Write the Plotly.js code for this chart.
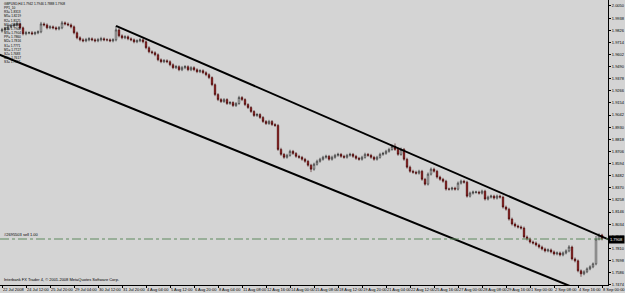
<!DOCTYPE html>
<html><head><meta charset="utf-8">
<script src="https://cdn.plot.ly/plotly-3.0.1.min.js"></script>
<style>html,body{margin:0;padding:0;background:#d4d4d4;overflow:hidden}#chart{width:625px;height:293px}</style>
</head><body><div id="chart"></div>
<script>
// GBPUSD, H4 bars (22 Jul 2008 - 8 Sep 2008)
const openP = [1.9820,1.9829,1.9838,1.9857,1.9866,1.9875,1.9884,1.9848,1.9793,1.9802,1.9802,1.9793,1.9802,1.9811,1.9884,1.9875,1.9848,1.9857,1.9848,1.9838,
1.9848,1.9894,1.9884,1.9875,1.9857,1.9802,1.9756,1.9737,1.9728,1.9737,1.9747,1.9737,1.9728,1.9737,1.9747,1.9737,1.9737,1.9728,1.9737,1.9829,
1.9774,1.9756,1.9765,1.9747,1.9737,1.9719,1.9728,1.9737,1.9719,1.9664,1.9627,1.9618,1.9599,1.9553,1.9535,1.9544,1.9535,1.9507,1.9480,1.9489,
1.9461,1.9480,1.9489,1.9461,1.9480,1.9461,1.9443,1.9452,1.9434,1.9415,1.9388,1.9323,1.9231,1.9185,1.9167,1.9185,1.9149,1.9158,1.9130,1.9149,
1.9204,1.9185,1.9139,1.9112,1.9075,1.9038,1.9047,1.9020,1.8983,1.8964,1.8983,1.8955,1.8946,1.8725,1.8679,1.8652,1.8670,1.8707,1.8688,1.8661,
1.8652,1.8634,1.8615,1.8579,1.8542,1.8588,1.8615,1.8634,1.8652,1.8661,1.8634,1.8652,1.8670,1.8679,1.8661,1.8652,1.8670,1.8679,1.8661,1.8643,
1.8634,1.8652,1.8679,1.8670,1.8652,1.8634,1.8652,1.8679,1.8688,1.8707,1.8725,1.8753,1.8725,1.8679,1.8725,1.8634,1.8561,1.8523,1.8514,1.8505,
1.8523,1.8449,1.8404,1.8496,1.8542,1.8523,1.8469,1.8449,1.8431,1.8358,1.8358,1.8367,1.8358,1.8413,1.8431,1.8422,1.8293,1.8321,1.8330,1.8330,
1.8321,1.8339,1.8266,1.8284,1.8293,1.8275,1.8293,1.8284,1.8192,1.8173,1.8081,1.8035,1.8017,1.8008,1.7998,1.7916,1.7897,1.7869,1.7860,1.7842,
1.7823,1.7805,1.7787,1.7796,1.7778,1.7759,1.7768,1.7750,1.7768,1.7787,1.7823,1.7713,1.7695,1.7603,1.7575,1.7594,1.7621,1.7640,1.7667,1.7897,
1.7934];
const highP = [1.9848,1.9857,1.9875,1.9884,1.9894,1.9903,1.9898,1.9860,1.9820,1.9815,1.9818,1.9816,1.9825,1.9903,1.9898,1.9889,1.9872,1.9870,1.9862,1.9865,
1.9912,1.9907,1.9898,1.9889,1.9870,1.9815,1.9770,1.9752,1.9755,1.9762,1.9760,1.9752,1.9755,1.9765,1.9760,1.9752,1.9750,1.9752,1.9866,1.9845,
1.9788,1.9780,1.9778,1.9760,1.9750,1.9742,1.9752,1.9750,1.9732,1.9678,1.9640,1.9632,1.9612,1.9566,1.9560,1.9558,1.9548,1.9520,1.9505,1.9502,
1.9496,1.9504,1.9502,1.9494,1.9493,1.9475,1.9466,1.9465,1.9447,1.9428,1.9400,1.9335,1.9245,1.9200,1.9199,1.9198,1.9172,1.9170,1.9162,1.9220,
1.9218,1.9198,1.9152,1.9125,1.9088,1.9062,1.9060,1.9033,1.8996,1.8998,1.8996,1.8968,1.8960,1.8740,1.8692,1.8684,1.8722,1.8720,1.8700,1.8675,
1.8665,1.8647,1.8628,1.8592,1.8602,1.8630,1.8648,1.8666,1.8676,1.8674,1.8667,1.8684,1.8694,1.8692,1.8675,1.8684,1.8694,1.8692,1.8674,1.8656,
1.8666,1.8694,1.8692,1.8684,1.8665,1.8666,1.8694,1.8702,1.8721,1.8740,1.8770,1.8780,1.8740,1.8742,1.8738,1.8648,1.8575,1.8537,1.8528,1.8537,
1.8536,1.8462,1.8512,1.8558,1.8556,1.8536,1.8482,1.8462,1.8444,1.8372,1.8380,1.8380,1.8428,1.8446,1.8444,1.8435,1.8335,1.8344,1.8343,1.8343,
1.8353,1.8352,1.8298,1.8307,1.8306,1.8307,1.8306,1.8298,1.8206,1.8186,1.8095,1.8050,1.8030,1.8022,1.8012,1.7930,1.7910,1.7882,1.7874,1.7855,
1.7836,1.7818,1.7810,1.7809,1.7791,1.7782,1.7781,1.7782,1.7801,1.7840,1.7836,1.7727,1.7708,1.7616,1.7608,1.7635,1.7654,1.7680,1.7925,1.7950,
1.7945];
const lowP = [1.9805,1.9815,1.9824,1.9843,1.9852,1.9860,1.9834,1.9778,1.9779,1.9788,1.9780,1.9780,1.9789,1.9798,1.9861,1.9834,1.9835,1.9834,1.9824,1.9825,
1.9835,1.9870,1.9862,1.9843,1.9788,1.9742,1.9723,1.9714,1.9715,1.9723,1.9724,1.9714,1.9715,1.9722,1.9724,1.9722,1.9715,1.9714,1.9723,1.9760,
1.9742,1.9743,1.9733,1.9724,1.9705,1.9706,1.9715,1.9705,1.9650,1.9613,1.9604,1.9585,1.9539,1.9521,1.9522,1.9521,1.9493,1.9466,1.9467,1.9447,
1.9448,1.9466,1.9447,1.9448,1.9447,1.9429,1.9430,1.9420,1.9401,1.9374,1.9309,1.9217,1.9171,1.9153,1.9154,1.9135,1.9136,1.9116,1.9117,1.9136,
1.9171,1.9125,1.9098,1.9061,1.9024,1.9025,1.9006,1.8969,1.8950,1.8951,1.8941,1.8932,1.8711,1.8665,1.8638,1.8639,1.8657,1.8674,1.8647,1.8638,
1.8620,1.8601,1.8565,1.8515,1.8528,1.8575,1.8602,1.8621,1.8639,1.8620,1.8621,1.8639,1.8657,1.8647,1.8638,1.8639,1.8657,1.8647,1.8629,1.8620,
1.8621,1.8639,1.8656,1.8638,1.8620,1.8621,1.8639,1.8666,1.8675,1.8694,1.8712,1.8711,1.8665,1.8666,1.8620,1.8547,1.8509,1.8500,1.8491,1.8492,
1.8435,1.8390,1.8391,1.8483,1.8510,1.8455,1.8435,1.8417,1.8344,1.8344,1.8345,1.8344,1.8345,1.8400,1.8408,1.8279,1.8280,1.8308,1.8316,1.8307,
1.8308,1.8252,1.8253,1.8271,1.8261,1.8262,1.8270,1.8178,1.8159,1.8067,1.8021,1.8003,1.7994,1.7984,1.7902,1.7883,1.7855,1.7846,1.7828,1.7809,
1.7791,1.7773,1.7774,1.7764,1.7745,1.7746,1.7736,1.7737,1.7755,1.7774,1.7699,1.7681,1.7589,1.7548,1.7562,1.7581,1.7608,1.7627,1.7654,1.7884,
1.7884];
const closeP = [1.9829,1.9838,1.9857,1.9866,1.9875,1.9884,1.9848,1.9793,1.9802,1.9802,1.9793,1.9802,1.9811,1.9884,1.9875,1.9848,1.9857,1.9848,1.9838,1.9848,
1.9894,1.9884,1.9875,1.9857,1.9802,1.9756,1.9737,1.9728,1.9737,1.9747,1.9737,1.9728,1.9737,1.9747,1.9737,1.9737,1.9728,1.9737,1.9829,1.9774,
1.9756,1.9765,1.9747,1.9737,1.9719,1.9728,1.9737,1.9719,1.9664,1.9627,1.9618,1.9599,1.9553,1.9535,1.9544,1.9535,1.9507,1.9480,1.9489,1.9461,
1.9480,1.9489,1.9461,1.9480,1.9461,1.9443,1.9452,1.9434,1.9415,1.9388,1.9323,1.9231,1.9185,1.9167,1.9185,1.9149,1.9158,1.9130,1.9149,1.9204,
1.9185,1.9139,1.9112,1.9075,1.9038,1.9047,1.9020,1.8983,1.8964,1.8983,1.8955,1.8946,1.8725,1.8679,1.8652,1.8670,1.8707,1.8688,1.8661,1.8652,
1.8634,1.8615,1.8579,1.8542,1.8588,1.8615,1.8634,1.8652,1.8661,1.8634,1.8652,1.8670,1.8679,1.8661,1.8652,1.8670,1.8679,1.8661,1.8643,1.8634,
1.8652,1.8679,1.8670,1.8652,1.8634,1.8652,1.8679,1.8688,1.8707,1.8725,1.8753,1.8725,1.8679,1.8725,1.8634,1.8561,1.8523,1.8514,1.8505,1.8523,
1.8449,1.8404,1.8496,1.8542,1.8523,1.8469,1.8449,1.8431,1.8358,1.8358,1.8367,1.8358,1.8413,1.8431,1.8422,1.8293,1.8321,1.8330,1.8330,1.8321,
1.8339,1.8266,1.8284,1.8293,1.8275,1.8293,1.8284,1.8192,1.8173,1.8081,1.8035,1.8017,1.8008,1.7998,1.7916,1.7897,1.7869,1.7860,1.7842,1.7823,
1.7805,1.7787,1.7796,1.7778,1.7759,1.7768,1.7750,1.7768,1.7787,1.7823,1.7713,1.7695,1.7603,1.7575,1.7594,1.7621,1.7640,1.7667,1.7897,1.7934,
1.7897];

// x-axis labels (every 8 bars) and price-axis labels
const xTickBars = [0,8,16,24,32,40,48,56,64,72,80,88,96,104,112,120,128,136,144,152,160,168,176,184,192,200];
const xTickLabels = ["22 Jul 2008","24 Jul 12:00","25 Jul 20:00","29 Jul 04:00","30 Jul 12:00","31 Jul 20:00","4 Aug 04:00","5 Aug 12:00","6 Aug 20:00","8 Aug 04:00","11 Aug 08:00","12 Aug 16:00","14 Aug 00:00","15 Aug 08:00","18 Aug 12:00","19 Aug 20:00","21 Aug 04:00","22 Aug 12:00","25 Aug 16:00","27 Aug 00:00","28 Aug 08:00","29 Aug 16:00","1 Sep 00:00","2 Sep 08:00","4 Sep 16:00","8 Sep 00:00"];
const yTickVals = [2.0050,1.9938,1.9826,1.9714,1.9602,1.9490,1.9378,1.9266,1.9154,1.9042,1.8930,1.8818,1.8706,1.8594,1.8482,1.8370,1.8258,1.8146,1.8034,1.7922,1.7810,1.7698,1.7586,1.7474];
const yTickLabels = ["2.0050","1.9938","1.9826","1.9714","1.9602","1.9490","1.9378","1.9266","1.9154","1.9042","1.8930","1.8818","1.8706","1.8594","1.8482","1.8370","1.8258","1.8146","1.8034","1.7922","1.7810","1.7698","1.7586","1.7474"];

// trend channel anchors (bar, price)
const upperLineBars = [38, 203];
const upperLinePrices = [1.9866, 1.7883];
const lowerLineBars = [-1, 190];
const lowerLinePrices = [1.9602, 1.7455];

// open order line
const orderPrice = 1.7897;
const orderLabel = "#2695503 sell 1.00";
const lastPriceLabel = "1.7908";

// info text (top-left)
const infoLines = ["GBPUSD,H4 1.7942 1.7946 1.7888 1.7908","PP1_10","R3= 1.8313","M5= 1.8219","R2= 1.8125","M4= 1.8037","R1= 1.7948","M3= 1.7904","PP= 1.7860","M2= 1.7816","S1= 1.7771","M1= 1.7727","S2= 1.7683","M0= 1.7617","S3= 1.7552"];
const copyright = "Interbank FX Trader 4, © 2001-2008 MetaQuotes Software Corp.";

const bars = closeP.map((_, i) => i);
const FONT = "Liberation Sans, Arial, sans-serif";

const traces = [
  {type:'candlestick', x:bars, open:openP, high:highP, low:lowP, close:closeP,
   increasing:{line:{color:'#1a1a1a', width:0.6}, fillcolor:'#f4f4f4'},
   decreasing:{line:{color:'#3a0000', width:0.6}, fillcolor:'#9a0a0a'},
   whiskerwidth:0, hoverinfo:'skip', showlegend:false},
  {type:'scatter', mode:'lines', x:upperLineBars, y:upperLinePrices, line:{color:'#000', width:2}, showlegend:false, hoverinfo:'skip'},
  {type:'scatter', mode:'lines', x:lowerLineBars, y:lowerLinePrices, line:{color:'#000', width:2}, showlegend:false, hoverinfo:'skip'}
];

const PLOT_H = 285; // plot-area height in px (293 - bottom margin 8)
const annotations = [
  {xref:'paper', yref:'paper', x:0.003, y:1, xanchor:'left', yanchor:'top', align:'left', showarrow:false,
   text: infoLines.join('<br>'), font:{family:FONT, size:3.2, color:'#000'}},
  {xref:'paper', yref:'paper', x:0.003, y:0.002, xanchor:'left', yanchor:'bottom', showarrow:false,
   text: copyright, font:{family:FONT, size:4, color:'#000'}},
  {xref:'paper', yref:'y', x:0.003, y:orderPrice, xanchor:'left', yanchor:'bottom', showarrow:false,
   text: orderLabel, font:{family:FONT, size:4, color:'#000'}},
  {xref:'paper', yref:'y', x:1, y:closeP[closeP.length-1], xanchor:'left', yanchor:'middle', showarrow:false,
   text: lastPriceLabel, bgcolor:'#000', font:{family:FONT, size:4, color:'#fff'}, borderpad:1}
];
// date labels, left-aligned at their ticks, just under the plot
xTickBars.forEach((b, k) => annotations.push({
  xref:'x', yref:'paper', x:b, y:-4/PLOT_H, xanchor:'left', yanchor:'middle', showarrow:false,
  text: xTickLabels[k], font:{family:FONT, size:4, color:'#000'}, borderpad:0
}));

const layout = {
  width:625, height:293,
  margin:{l:0, r:17, t:0, b:8, pad:0},
  paper_bgcolor:'#d4d4d4', plot_bgcolor:'#d4d4d4',
  showlegend:false,
  xaxis:{range:[-0.67, 202], showgrid:false, zeroline:false, rangeslider:{visible:false},
    tickmode:'array', tickvals:xTickBars, ticks:'outside', ticklen:2, tickcolor:'#000',
    showticklabels:false,
    showline:true, linecolor:'#000', linewidth:1, mirror:true, automargin:false, fixedrange:true},
  yaxis:{range:[1.7472, 2.01052], side:'right', showgrid:false, zeroline:false,
    tickmode:'array', tickvals:yTickVals, ticktext:yTickLabels, ticks:'outside', ticklen:2, tickcolor:'#000',
    tickfont:{family:FONT, size:4, color:'#000'}, showline:true, linecolor:'#000', linewidth:1, mirror:true,
    automargin:false, fixedrange:true},
  shapes:[
    {type:'line', xref:'paper', x0:0, x1:1, yref:'y', y0:orderPrice, y1:orderPrice,
     line:{color:'#5f8a5f', width:1, dash:'dashdot'}}
  ],
  annotations: annotations
};

Plotly.newPlot('chart', traces, layout, {staticPlot:true, displayModeBar:false});
</script></body></html>
